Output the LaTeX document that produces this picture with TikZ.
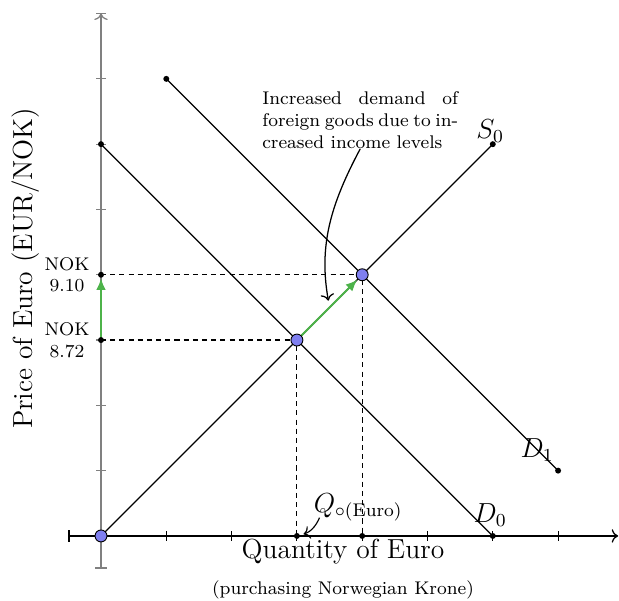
\documentclass[tikz,border=0pt]{standalone}
\usetikzlibrary{arrows.meta,positioning,calc}
\definecolor{shiftgreen}{HTML}{4DB34A}
\definecolor{eqblue}{HTML}{7F7FF0}
\begin{document}
\begin{tikzpicture}[
    axis/.style={|->,line width=0.55pt},
    curve/.style={line width=0.55pt},
    guide/.style={line width=0.5pt,dash pattern=on 2.2pt off 1.8pt},
    shiftarr/.style={-{Latex[length=1.8mm,width=1.5mm]},shiftgreen,line width=0.9pt},
    pt/.style={circle,fill=black,inner sep=0pt,minimum size=2.6pt},
    eq/.style={circle,draw=black,fill=eqblue,inner sep=0pt,minimum size=5.2pt,line width=0.4pt},
    big/.style={font=\fontsize{12}{14}\selectfont},
    note/.style={font=\footnotesize,text width=3cm,align=justify,inner sep=0pt},
    nok/.style={font=\footnotesize,align=center}]
  \useasboundingbox (-1.547,-0.995) rectangle (7.933,8.208);
  % axes
  \draw[axis] (-0.5,0) -- (7.92,0);
  \draw[axis,gray] (0,-0.5) -- (0,8);
  \foreach \i in {1,...,7}
    \draw[line width=0.5pt] (\i,0.07) -- (\i,-0.07);
  \foreach \i in {1,...,8}
    \draw[line width=0.5pt,gray] (0.07,\i) -- (-0.07,\i);
  % points
  \coordinate (o) at (0,0);
  \coordinate (s1) at (6,6);
  \coordinate (d0a) at (0,6);
  \coordinate (d0b) at (6,0);
  \coordinate (d1a) at (1,7);
  \coordinate (d1b) at (7,1);
  \coordinate (e0) at (3,3);
  \coordinate (e1) at (4,4);
  \coordinate (p0) at (0,3);
  \coordinate (p1) at (0,4);
  \coordinate (q0) at (3,0);
  \coordinate (q1) at (4,0);
  \coordinate (mid) at ($(e0)!0.5!(e1)$);
  % curves
  \draw[curve] (o) -- (s1);
  \draw[curve] (d0a) -- (d0b);
  \draw[curve] (d1a) -- (d1b);
  \draw[guide] (p1) -- (e1) -- (q1);
  \draw[guide] (p0) -- (e0) -- (q0);
  \draw[shiftarr,shorten >=1.5pt] (p0) -- (p1);
  \draw[shiftarr,shorten >=3pt] (e0) -- (e1);
  % dots
  \foreach \c in {s1,d0a,d0b,d1a,d1b,p0,p1,q0,q1}
    \node[pt] (\c dot) at (\c) {};
  \foreach \c in {o,e0,e1}
    \node[eq] (\c dot) at (\c) {};
  % labels
  \node[nok,left=0pt of p1dot] (nok1) {NOK\\9.10};
  \node[nok,left=0pt of p0dot] (nok0) {NOK\\8.72};
  \node[big] (s0lbl) at (5.96,6.2) {$S_0$};
  \node[big] (d1lbl) at (6.68,1.32) {$D_1$};
  \node[big] (d0lbl) at (5.96,0.32) {$D_0$};
  \node[big] (qlbl) at (3.94,0.44) {$Q_{\circ(\mathrm{Euro})}$};
  \draw[->,line width=0.5pt,shorten >=1.5pt] ([xshift=6pt,yshift=5pt]qlbl.south west) to[bend left=25] (q0dot);
  \node[note] (note) at (3.97,6.37) {Increased demand of foreign goods due to increased income levels};
  \draw[->,line width=0.55pt,shorten >=3pt] (note.south) to[out=-118,in=100] (mid);
  \node[big,rotate=90] (ylbl) at (-1.16,4.1) {Price of Euro (EUR/NOK)};
  \node[big] (xlbl) at (3.706,-0.245) {Quantity of Euro};
  \node[font=\footnotesize] (xsub) at (3.706,-0.827) {(purchasing Norwegian Krone)};
\end{tikzpicture}
\end{document}
